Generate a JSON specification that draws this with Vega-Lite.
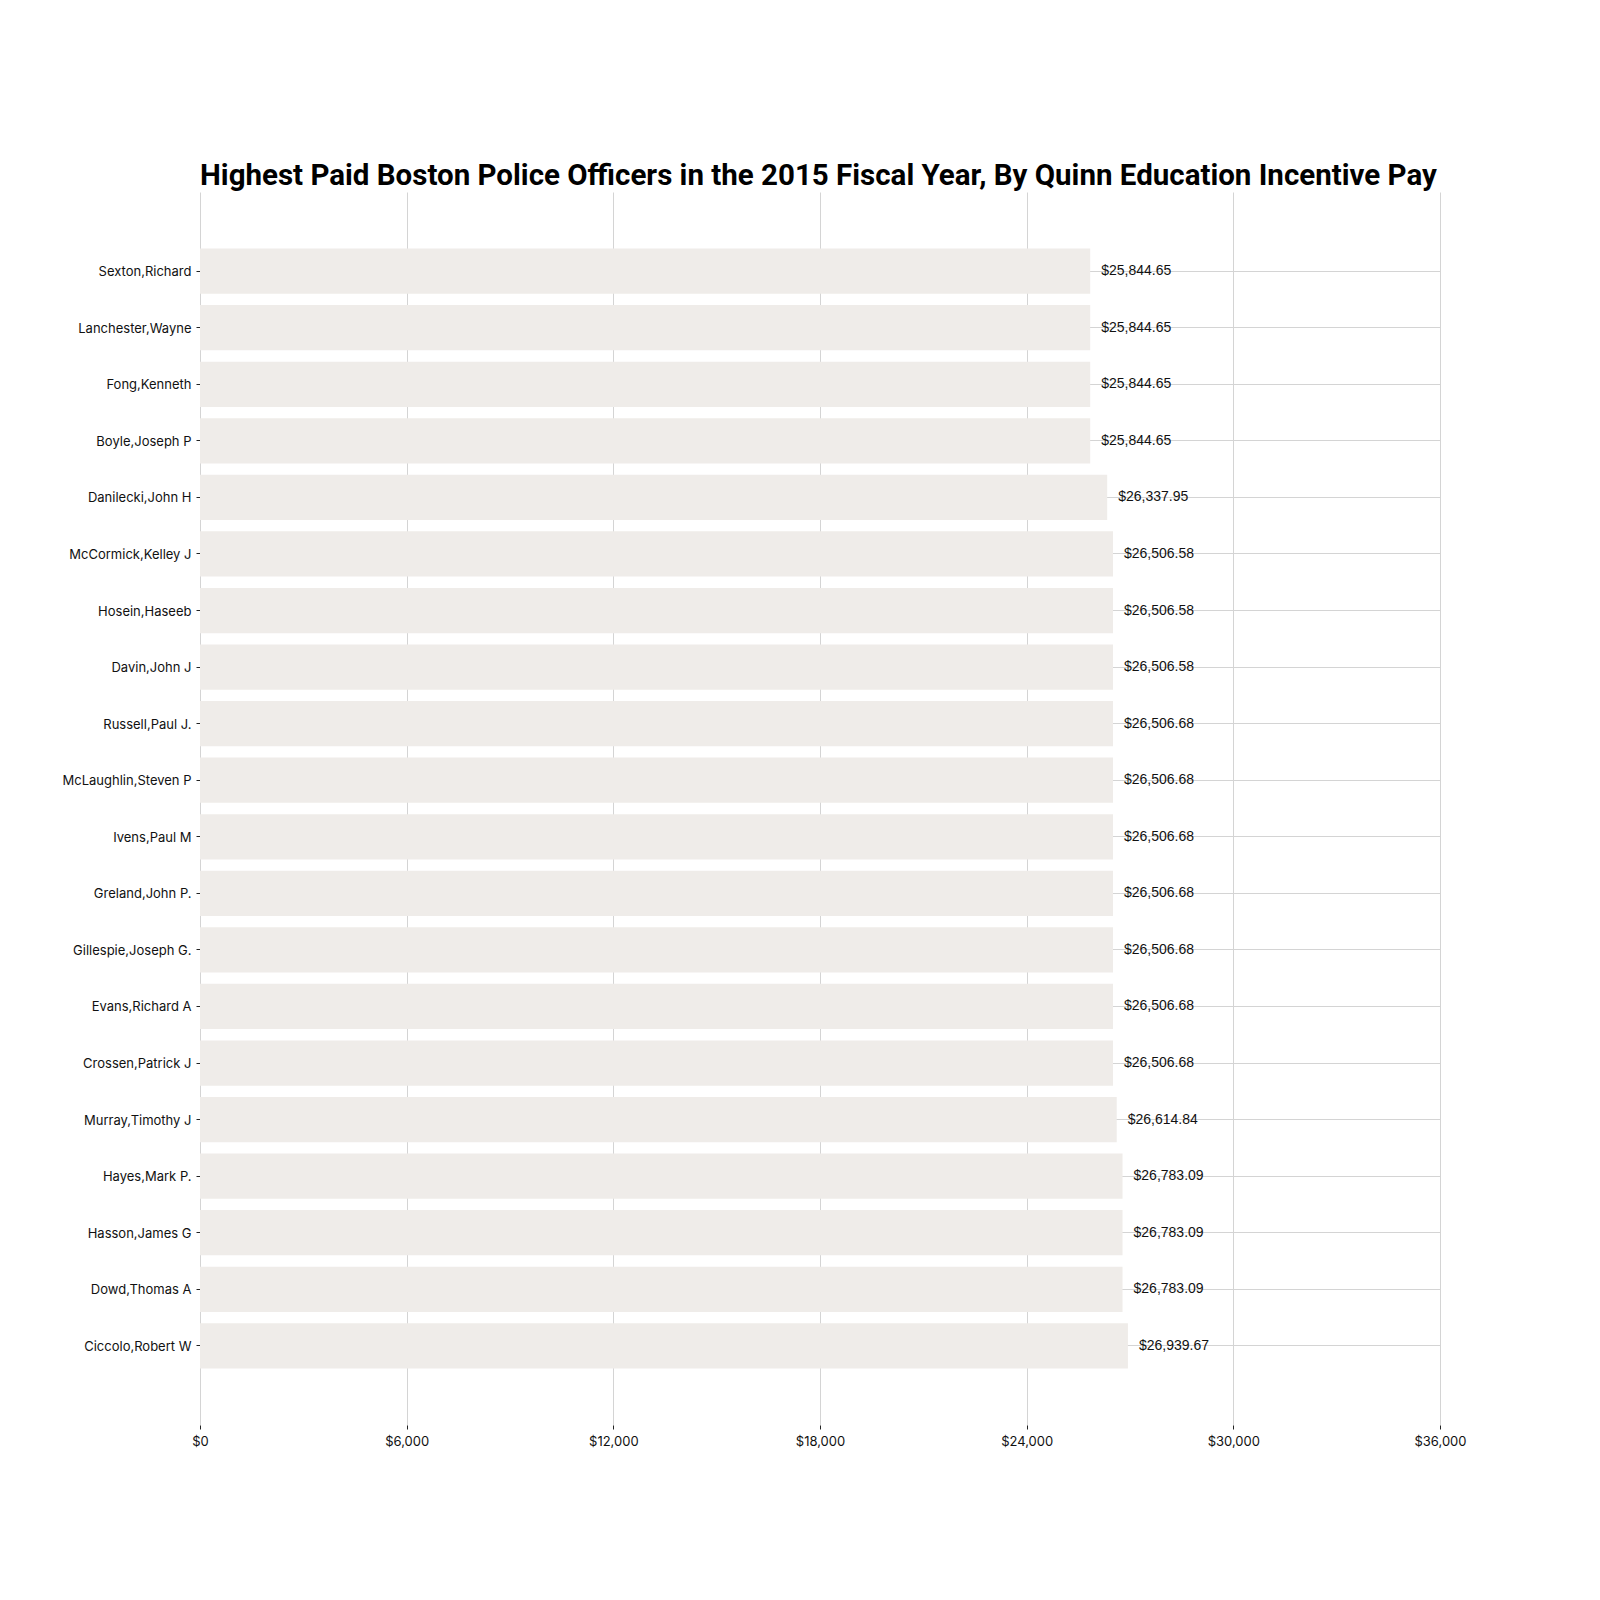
{
  "$schema": "https://vega.github.io/schema/vega-lite/v6.json",
  "autosize": {"type": "none"},
  "padding": {"left": 200, "top": 192, "right": 160, "bottom": 175},
  "width": 1240,
  "height": 1233,
  "background": "white",
  "title": {
    "text": "Highest Paid Boston Police Officers in the 2015 Fiscal Year, By Quinn Education Incentive Pay",
    "anchor": "start",
    "frame": "group",
    "font": "Roboto",
    "fontWeight": "bold",
    "fontSize": 29.5,
    "color": "#000000",
    "baseline": "alphabetic",
    "offset": 9,
    "dy": 31
  },
  "data": {
    "values": [
      {"name": "Sexton,Richard", "pay": 25844.65},
      {"name": "Lanchester,Wayne", "pay": 25844.65},
      {"name": "Fong,Kenneth", "pay": 25844.65},
      {"name": "Boyle,Joseph P", "pay": 25844.65},
      {"name": "Danilecki,John H", "pay": 26337.95},
      {"name": "McCormick,Kelley J", "pay": 26506.58},
      {"name": "Hosein,Haseeb", "pay": 26506.58},
      {"name": "Davin,John J", "pay": 26506.58},
      {"name": "Russell,Paul J.", "pay": 26506.68},
      {"name": "McLaughlin,Steven P", "pay": 26506.68},
      {"name": "Ivens,Paul M", "pay": 26506.68},
      {"name": "Greland,John P.", "pay": 26506.68},
      {"name": "Gillespie,Joseph G.", "pay": 26506.68},
      {"name": "Evans,Richard A", "pay": 26506.68},
      {"name": "Crossen,Patrick J", "pay": 26506.68},
      {"name": "Murray,Timothy J", "pay": 26614.84},
      {"name": "Hayes,Mark P.", "pay": 26783.09},
      {"name": "Hasson,James G", "pay": 26783.09},
      {"name": "Dowd,Thomas A", "pay": 26783.09},
      {"name": "Ciccolo,Robert W", "pay": 26939.67}
    ]
  },
  "config": {
    "view": {"stroke": null},
    "axis": {
      "labelFont": "Inter",
      "labelFontSize": 13,
      "labelColor": "#111111",
      "gridColor": "#d4d4d4",
      "gridWidth": 1,
      "tickColor": "#222222",
      "tickSize": 4,
      "domain": false,
      "title": null
    }
  },
  "encoding": {
    "y": {
      "field": "name",
      "type": "nominal",
      "sort": null,
      "scale": {"paddingInner": 0.2, "paddingOuter": 1.0},
      "axis": {"grid": true, "labelPadding": 5, "labelBaseline": "middle", "labelOffset": 1, "title": null}
    }
  },
  "layer": [
    {
      "mark": {"type": "bar", "color": "#efece9"},
      "encoding": {
        "x": {
          "field": "pay",
          "type": "quantitative",
          "scale": {"domain": [0, 36000], "nice": false},
          "axis": {
            "values": [0, 6000, 12000, 18000, 24000, 30000, 36000],
            "format": "$,.0f",
            "grid": true,
            "labelFlush": false,
            "labelPadding": 6,
            "title": null
          }
        }
      }
    },
    {
      "mark": {
        "type": "text",
        "align": "left",
        "baseline": "middle",
        "dx": 11,
        "font": "Liberation Sans",
        "fontSize": 14,
        "color": "#111111"
      },
      "encoding": {
        "x": {"field": "pay", "type": "quantitative"},
        "text": {"field": "pay", "type": "quantitative", "format": "$,.2f"}
      }
    }
  ]
}
